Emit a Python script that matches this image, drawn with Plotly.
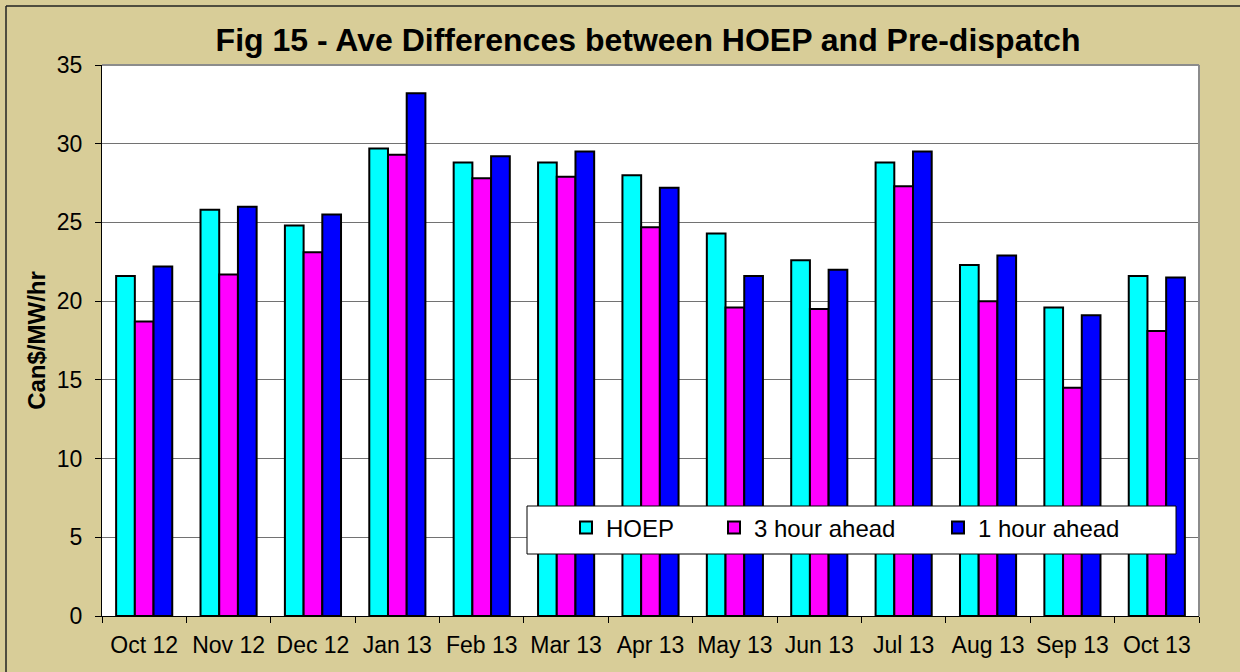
import plotly.graph_objects as go

months = ["Oct 12", "Nov 12", "Dec 12", "Jan 13", "Feb 13", "Mar 13", "Apr 13",
          "May 13", "Jun 13", "Jul 13", "Aug 13", "Sep 13", "Oct 13"]
hoep = [21.6, 25.8, 24.8, 29.7, 28.8, 28.8, 28.0, 24.3, 22.6, 28.8, 22.3, 19.6, 21.6]
three_hour = [18.7, 21.7, 23.1, 29.3, 27.8, 27.9, 24.7, 19.6, 19.5, 27.3, 20.0, 14.5, 18.1]
one_hour = [22.2, 26.0, 25.5, 33.2, 29.2, 29.5, 27.2, 21.6, 22.0, 29.5, 22.9, 19.1, 21.5]
y_ticks = [0, 5, 10, 15, 20, 25, 30, 35]

series_names = ["HOEP", "3 hour ahead", "1 hour ahead"]
series_colors = ["#00FFFF", "#FF00FF", "#0000FF"]
series_values = [hoep, three_hour, one_hour]
legend_ids = ["legend", "legend2", "legend3"]

FONT = "Liberation Sans, Arial, sans-serif"
BG = "#D8CD98"

W, H = 1240, 672
L, R, T, B = 102, 41, 65, 56
PW, PH = W - L - R, H - T - B


def px_x(p):
    return (p - L) / PW


def px_y(p):
    return (H - B - p) / PH


fig = go.Figure()
for name, color, vals, lg in zip(series_names, series_colors, series_values, legend_ids):
    fig.add_trace(go.Bar(
        x=months, y=vals, name=name, legend=lg, showlegend=True,
        marker=dict(color=color, line=dict(color="#000000", width=2)),
    ))

# legend text start positions (px)
legend_text_px = [608, 756, 980]
legend_common = dict(
    orientation="h", yanchor="middle", xanchor="left",
    bgcolor="rgba(0,0,0,0)", borderwidth=0,
    font=dict(family=FONT, size=24, color="#000000"),
)

fig.update_layout(
    width=W, height=H,
    margin=dict(l=L, r=R, t=T, b=B),
    paper_bgcolor=BG,
    plot_bgcolor="#FFFFFF",
    showlegend=True,
    barmode="group",
    bargap=0.335,
    bargroupgap=0,
    font=dict(family=FONT, color="#000000"),
    title=dict(
        text="<b>Fig 15 - Ave Differences between HOEP and Pre-dispatch</b>",
        font=dict(family=FONT, size=32, color="#000000"),
        x=px_x(648), xref="paper", xanchor="center",
        y=1 - 40 / H, yref="container", yanchor="middle",
    ),
    legend=dict(x=px_x(legend_text_px[0] - 42), y=px_y(528), **legend_common),
    legend2=dict(x=px_x(legend_text_px[1] - 42), y=px_y(528), **legend_common),
    legend3=dict(x=px_x(legend_text_px[2] - 42), y=px_y(528), **legend_common),
    xaxis=dict(
        type="category",
        showline=True, linecolor="#000000", linewidth=1,
        ticks="outside", tickson="boundaries", ticklen=6, tickcolor="#000000",
        tickfont=dict(family=FONT, size=23, color="#000000"),
        tickangle=0,
        ticklabelstandoff=8,
        showgrid=False,
    ),
    yaxis=dict(
        range=[0, 35], tickvals=y_ticks,
        showline=True, linecolor="#000000", linewidth=1,
        ticks="outside", ticklen=6, tickcolor="#000000",
        tickfont=dict(family=FONT, size=23, color="#000000"),
        ticklabelstandoff=8,
        showgrid=True, gridcolor="#727272", gridwidth=1,
        zeroline=False,
        title=dict(text="<b>Can$/MW/hr</b>", standoff=4,
                   font=dict(family=FONT, size=24, color="#000000")),
    ),
    shapes=[
        # plot area border top/right (gray)
        dict(type="line", xref="paper", yref="paper", x0=0, x1=1, y0=1, y1=1,
             line=dict(color="#8C8C8C", width=2)),
        dict(type="line", xref="paper", yref="paper", x0=1, x1=1, y0=0, y1=1,
             line=dict(color="#8C8C8C", width=2)),
        # outer chart border (left/top)
        dict(type="line", xref="paper", yref="paper", layer="above",
             x0=px_x(6), x1=px_x(6), y0=px_y(6), y1=px_y(H + 10),
             line=dict(color="#222222", width=1.5)),
        dict(type="line", xref="paper", yref="paper", layer="above",
             x0=px_x(6), x1=px_x(W + 10), y0=px_y(6), y1=px_y(6),
             line=dict(color="#222222", width=1.5)),
        # legend box
        dict(type="rect", xref="paper", yref="paper", layer="above",
             x0=px_x(527), x1=px_x(1176), y0=px_y(554), y1=px_y(506),
             fillcolor="#FFFFFF", line=dict(color="#000000", width=1)),
    ],
)

fig.write_html(
    "out.html",
    config={"displayModeBar": False},
    post_script="document.body.style.margin='0';document.body.style.overflow='hidden';",
)
